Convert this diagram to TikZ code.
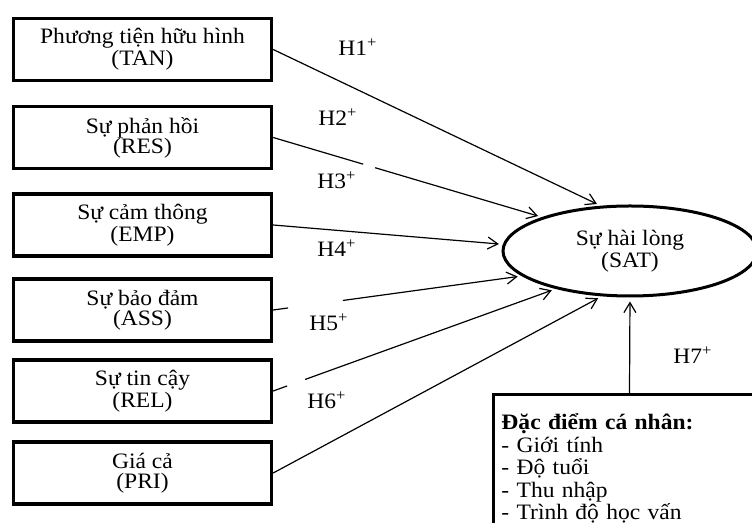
\documentclass[tikz,border=0pt]{standalone}
\usepackage{fontspec}
\setmainfont{Liberation Serif}[FakeStretch=1.07]
\usetikzlibrary{arrows.meta,shapes.geometric}
\begin{document}
\begin{tikzpicture}[x=0.5pt,y=-0.5pt,
  every node/.style={font=\fontsize{11}{10}\selectfont},
  factor/.style={draw, line width=1.7pt, minimum width=129pt, minimum height=31pt, align=center, inner sep=0pt},
  hyp/.style={-{Straight Barb[length=5pt,width=6pt]}, line width=0.6pt, shorten >=2pt},
  hlabel/.style={inner sep=0pt}]
\useasboundingbox (0,0) rectangle (752,523);
\clip (0,0) rectangle (752,523);
% factor boxes
\node[factor] (tan) at (142.5,49.5) {Phương tiện hữu hình\\(TAN)};
\node[factor] (res) at (142.5,137.5) {Sự phản hồi\\(RES)};
\node[factor] (emp) at (142.5,225) {Sự cảm thông\\(EMP)};
\node[factor] (ass) at (142.5,310) {Sự bảo đảm\\(ASS)};
\node[factor] (rel) at (142.5,391) {Sự tin cậy\\(REL)};
\node[factor] (pri) at (142.5,473) {Giá cả\\(PRI)};
% satisfaction
\node[draw, ellipse, line width=1.5pt, minimum width=127pt, minimum height=45pt, inner sep=0pt, align=center] (sat) at (630,251) {Sự hài lòng\\(SAT)};
% personal characteristics
\node[draw, line width=1.5pt, anchor=north west, minimum height=74pt, text width=128pt, inner xsep=4pt, inner ysep=0pt, align=left,
  font=\fontsize{11}{11.25}\selectfont] (dem) at (492,393)
  {\textbf{Đặc điểm cá nhân:}\\- Giới tính\\- Độ tuổi\\- Thu nhập\\- Trình độ học vấn};
% hypotheses
\draw[hyp] (tan.east) -- (sat.123.7);
\draw[hyp, dash pattern=on 46.9pt off 6.25pt on 400pt] (res.east) -- (sat.159);
\draw[hyp] (emp.east) -- (sat.177);
\draw[hyp, dash pattern=on 7.5pt off 27.7pt on 400pt] (ass.east) -- (sat.193.4);
\draw[hyp, dash pattern=on 7.4pt off 9.6pt on 400pt] (rel.east) -- (sat.207.1);
\draw[hyp] (pri.east) -- (sat.238.4);
\draw[hyp] (dem.north) -- (sat.south);
% labels
\node[hlabel] (h1) at (358,47) {H1\textsuperscript{+}};
\node[hlabel] (h2) at (338,117) {H2\textsuperscript{+}};
\node[hlabel] (h3) at (337,180) {H3\textsuperscript{+}};
\node[hlabel] (h4) at (337,248) {H4\textsuperscript{+}};
\node[hlabel] (h5) at (329,322) {H5\textsuperscript{+}};
\node[hlabel] (h6) at (327,400) {H6\textsuperscript{+}};
\node[hlabel] (h7) at (693,355) {H7\textsuperscript{+}};
\end{tikzpicture}
\end{document}
